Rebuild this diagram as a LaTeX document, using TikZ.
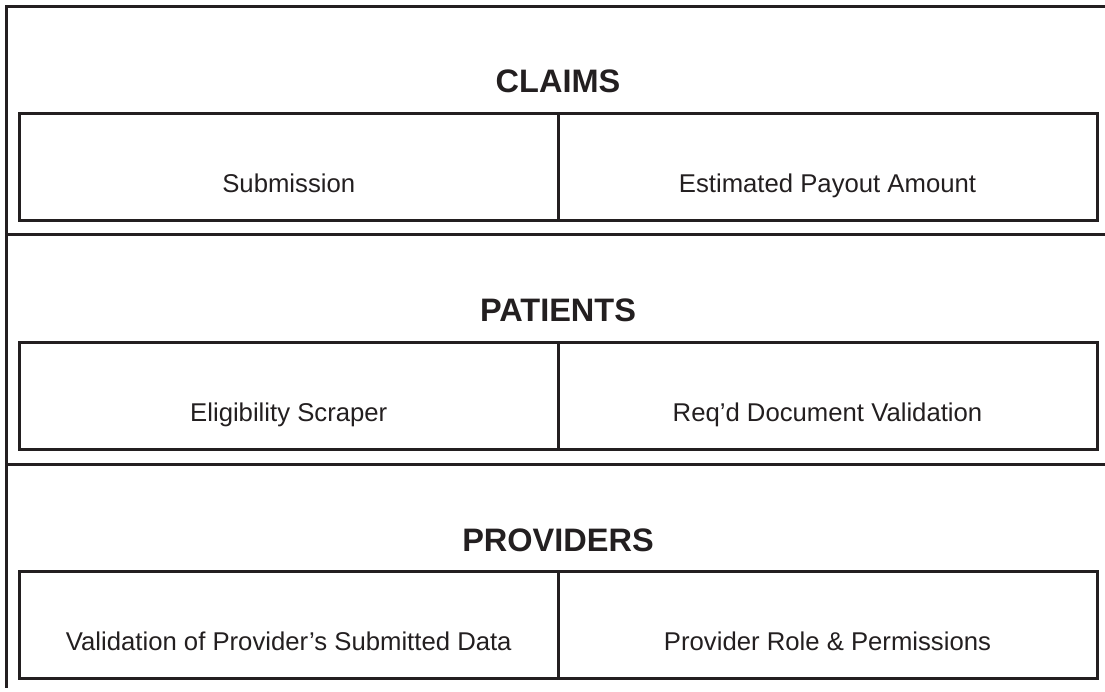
\documentclass[tikz,border=0pt]{standalone}
\usepackage{fontspec}
\setmainfont{Liberation Sans}
\definecolor{ink}{RGB}{35,31,32}
\begin{document}
\begin{tikzpicture}[x=1pt,y=1pt,
  frame/.style={line width=3pt, draw=ink, line join=miter},
  cell/.style={frame, rectangle, inner sep=0pt, outer sep=0pt, anchor=north west},
  celltext/.style={font=\fontsize{25.7}{30}\selectfont, anchor=base, text=ink, inner sep=0pt},
  head/.style={font=\fontsize{32.5}{38}\selectfont\bfseries, anchor=base, text=ink, inner sep=0pt}]
\useasboundingbox (0,0) rectangle (1105,691);
% outer frame
\coordinate (tl) at (6,684);
\coordinate (tr) at (1106,684);
\coordinate (bl) at (6,3);
\coordinate (s1l) at (6,456);
\coordinate (s1r) at (1106,456);
\coordinate (s2l) at (6,226.5);
\coordinate (s2r) at (1106,226.5);
\draw[frame] (tr) -- (tl) -- (bl);
\draw[frame] (s1l) -- (s1r);
\draw[frame] (s2l) -- (s2r);
% section 1
\node[head] (h1) at (558,598) {CLAIMS};
\node[cell, minimum width=538.5, minimum height=107.5] (c1l) at (19.5,577.5) {};
\node[cell, minimum width=539, minimum height=107.5] (c1r) at (c1l.north east) {};
\node[celltext] (t1l) at ([yshift=28.5]c1l.south) {Submission};
\node[celltext] (t1r) at ([yshift=28.5]c1r.south) {Estimated Payout Amount};
% section 2
\node[head] (h2) at (558,369) {PATIENTS};
\node[cell, minimum width=538.5, minimum height=107.5] (c2l) at (19.5,348.5) {};
\node[cell, minimum width=539, minimum height=107.5] (c2r) at (c2l.north east) {};
\node[celltext] (t2l) at ([yshift=28.5]c2l.south) {Eligibility Scraper};
\node[celltext] (t2r) at ([yshift=28.5]c2r.south) {Req’d Document Validation};
% section 3
\node[head] (h3) at (558,140) {PROVIDERS};
\node[cell, minimum width=538.5, minimum height=107] (c3l) at (19.5,119.5) {};
\node[cell, minimum width=539, minimum height=107] (c3r) at (c3l.north east) {};
\node[celltext] (t3l) at ([yshift=28]c3l.south) {Validation of Provider’s Submitted Data};
\node[celltext] (t3r) at ([yshift=28]c3r.south) {Provider Role \& Permissions};
\end{tikzpicture}
\end{document}
